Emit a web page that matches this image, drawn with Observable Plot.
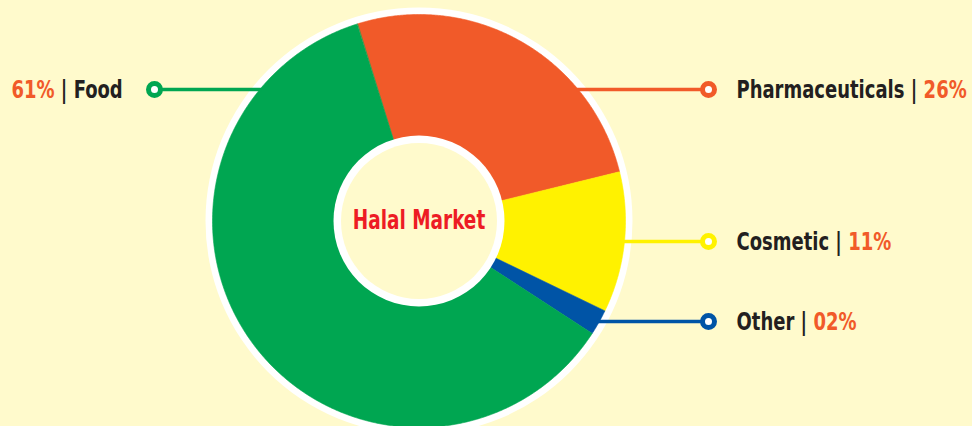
<!DOCTYPE html>
<html>
<head>
<meta charset="utf-8">
<script src="https://cdn.jsdelivr.net/npm/d3@7"></script>
<script src="https://cdn.jsdelivr.net/npm/@observablehq/plot@0.6"></script>
<style>
  html, body { margin: 0; padding: 0; background: #fffacc; }
  #chart svg { display: block; }
</style>
</head>
<body>
<div id="chart"></div>
<script>
// ---- data ----
const categories = ["Food", "Pharmaceuticals", "Cosmetic", "Other"];
const shares = [61, 26, 11, 2];
const shareLabels = ["61%", "26%", "11%", "02%"];
const centerTitle = "Halal Market";

// ---- styles / layout ----
const sliceColors = {Food: "#00a651", Pharmaceuticals: "#f15a29", Cosmetic: "#fff200", Other: "#0054a6"};
const bg = "#fffacc";
const pctColor = "#f15a29";
const textColor = "#231f20";
const W = 972, H = 426;
const CX = 418.5, CY = 220.5;           // donut centre (pixels)
const R_OUT = 206.5, R_RING = 213.5, R_HOLE_RING = 85.5, R_HOLE = 78;
const startDeg = -17.4;                  // where the Pharmaceuticals slice begins
const drawOrder = ["Pharmaceuticals", "Cosmetic", "Other", "Food"]; // clockwise
// label layout (pixels): side, label row y, marker x, text x
const labelLayout = {
  Food:            {side: "left",  y: 89,  mx: 154, tx: 11},
  Pharmaceuticals: {side: "right", y: 89,  mx: 708, tx: 736},
  Cosmetic:        {side: "right", y: 241, mx: 708, tx: 736},
  Other:           {side: "right", y: 321, mx: 708, tx: 736}
};
const FONT = '"DejaVu Sans Condensed", "DejaVu Sans", sans-serif';
const FS = 25;          // label font size
const SX = 0.8;         // horizontal condensing of the label font
const FS_C = 26, SX_C = 0.79;

const dx = px => px - CX;
const dy = py => CY - py;

// ---- slice geometry via d3.pie ----
const rows = categories.map((c, i) => ({cat: c, value: shares[i], label: shareLabels[i]}));
const ordered = drawOrder.map(c => rows.find(r => r.cat === c));
const a0 = startDeg * Math.PI / 180;
const arcs = d3.pie().sort(null).value(d => d.value).startAngle(a0).endAngle(a0 + 2 * Math.PI)(ordered);

function slicePoints(arc) {
  const pts = [{x: 0, y: 0}];
  const n = Math.max(2, Math.ceil((arc.endAngle - arc.startAngle) / (0.4 * Math.PI / 180)));
  for (let k = 0; k <= n; k++) {
    const a = arc.startAngle + (arc.endAngle - arc.startAngle) * k / n;
    pts.push({x: R_OUT * Math.sin(a), y: R_OUT * Math.cos(a)});
  }
  return pts;
}

// ---- label text measurement ----
const ctx = document.createElement("canvas").getContext("2d");
ctx.font = `bold ${FS}px ${FONT}`;
const mw = s => ctx.measureText(s).width * SX;

const leaders = [], markers = [], darkTexts = [], pctTexts = [];
for (const r of rows) {
  const L = labelLayout[r.cat];
  const ly = dy(L.y);
  const edge = Math.sqrt(R_OUT * R_OUT - ly * ly) - 2;
  const x1 = L.side === "left" ? -edge : edge;
  leaders.push({cat: r.cat, x1, x2: dx(L.mx), y: ly});
  markers.push({cat: r.cat, x: dx(L.mx), y: ly});
  if (L.side === "left") {
    pctTexts.push({t: r.label, x: dx(L.tx), y: ly});
    darkTexts.push({t: "| " + r.cat, x: dx(L.tx) + mw(r.label + " "), y: ly});
  } else {
    darkTexts.push({t: r.cat + " |", x: dx(L.tx), y: ly});
    pctTexts.push({t: r.label, x: dx(L.tx) + mw(r.cat + " | "), y: ly});
  }
}

const textOpts = {fontFamily: FONT, fontSize: FS, fontWeight: "bold", textAnchor: "start", lineAnchor: "middle"};

const plot = Plot.plot({
  width: W, height: H,
  margin: 0,
  style: {background: bg, overflow: "hidden"},
  x: {domain: [dx(0), dx(W)], range: [0, W], axis: null},
  y: {domain: [dy(H), dy(0)], range: [H, 0], axis: null},
  marks: [
    Plot.dot([{x: 0, y: 0}], {x: "x", y: "y", r: R_RING, fill: "white", stroke: null}),
    ...arcs.map(a => Plot.line(slicePoints(a), {
      x: "x", y: "y", curve: "linear-closed",
      fill: sliceColors[a.data.cat], stroke: sliceColors[a.data.cat], strokeWidth: 0.6
    })),
    Plot.dot([{x: 0, y: 0}], {x: "x", y: "y", r: R_HOLE_RING, fill: "white", stroke: null}),
    Plot.dot([{x: 0, y: 0}], {x: "x", y: "y", r: R_HOLE, fill: bg, stroke: null}),
    Plot.text([centerTitle], {x: () => 0, y: () => 0, text: d => d, fill: "#ed1c24",
      fontFamily: FONT, fontSize: FS_C, fontWeight: "bold", textAnchor: "middle", lineAnchor: "middle",
      className: "center-title"}),
    Plot.link(leaders, {x1: "x1", x2: "x2", y1: "y", y2: "y",
      stroke: d => sliceColors[d.cat], strokeWidth: 3.5}),
    Plot.dot(markers, {x: "x", y: "y", r: 6, fill: "white",
      stroke: d => sliceColors[d.cat], strokeWidth: 5}),
    Plot.text(darkTexts, {x: "x", y: "y", text: "t", fill: textColor, className: "lbl", ...textOpts}),
    Plot.text(pctTexts, {x: "x", y: "y", text: "t", fill: pctColor, className: "lbl", ...textOpts})
  ]
});

// condense the text horizontally (no narrow bold font is installed)
function condense(sel, s) {
  d3.select(plot).selectAll(sel).each(function() {
    const ax = +this.getAttribute("x") || 0, ay = +this.getAttribute("y") || 0;
    const t = this.getAttribute("transform") || "";
    this.setAttribute("transform", `${t} translate(${ax},${ay}) scale(${s},1) translate(${-ax},${-ay})`);
  });
}
condense(".lbl text", SX);
condense(".center-title text", SX_C);

document.getElementById("chart").appendChild(plot);
</script>
</body>
</html>
